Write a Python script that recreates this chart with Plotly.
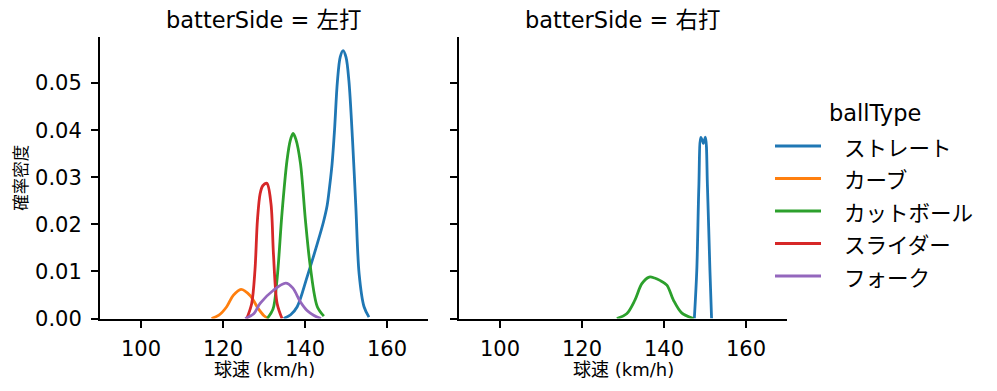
import plotly.graph_objects as go

# ---- data (KDE curves, km/h vs density) ----
ball_types = ["ストレート", "カーブ", "カットボール", "スライダー", "フォーク"]
colors = ["#1f77b4", "#ff7f0e", "#2ca02c", "#d62728", "#9467bd"]
x_ticks = [100, 120, 140, 160]
y_ticks = [0.00, 0.01, 0.02, 0.03, 0.04, 0.05]
y_tick_labels = ["0.00", "0.01", "0.02", "0.03", "0.04", "0.05"]

# left-handed batters (左打)
left_straight_x = [134.8, 136.5, 138.1, 140.5, 143.0, 144.5, 145.4, 146.0, 146.6, 147.2, 147.9, 148.6, 149.3, 150.0, 150.7, 151.6, 152.4, 153.2, 154.4, 155.6]
left_straight_y = [0.0, 0.0008, 0.0025, 0.0088, 0.0159, 0.0205, 0.0240, 0.0280, 0.0328, 0.0400, 0.0503, 0.0556, 0.0569, 0.0555, 0.0506, 0.0378, 0.0237, 0.0095, 0.0025, 0.0003]
left_curve_x = [117.2, 119.0, 120.9, 122.5, 124.4, 126.6, 128.6, 130.0, 131.1]
left_curve_y = [0.0, 0.0007, 0.0025, 0.0049, 0.0062, 0.0049, 0.0021, 0.0006, 0.0]
left_cutter_x = [130.8, 132.2, 133.2, 134.4, 135.6, 136.4, 137.1, 137.8, 138.9, 140.1, 141.3, 143.0, 144.6]
left_cutter_y = [0.0, 0.002, 0.0085, 0.0225, 0.0335, 0.0378, 0.0393, 0.0380, 0.0329, 0.0209, 0.0110, 0.0025, 0.0005]
left_slider_x = [125.8, 127.0, 127.8, 128.4, 129.05, 129.7, 130.7, 131.7, 132.3, 133.2, 134.4]
left_slider_y = [0.0, 0.0032, 0.0103, 0.0209, 0.0265, 0.0282, 0.0287, 0.0244, 0.0138, 0.0032, 0.0]
left_fork_x = [125.4, 127.5, 129.05, 132.3, 135.3, 137.0, 138.9, 140.5, 142.1, 143.9]
left_fork_y = [0.0, 0.0010, 0.0032, 0.0060, 0.0075, 0.0065, 0.0035, 0.0017, 0.0007, 0.0]

# right-handed batters (右打)
right_straight_x = [147.4, 148.0, 148.5, 149.0, 149.6, 150.1, 150.6, 151.2, 151.6]
right_straight_y = [0.0, 0.0103, 0.0280, 0.0385, 0.0372, 0.0385, 0.0280, 0.0103, 0.0]
right_cutter_x = [128.5, 130.9, 132.9, 134.6, 136.4, 137.7, 139.0, 140.7, 142.3, 144.3, 147.2]
right_cutter_y = [0.0, 0.0010, 0.0039, 0.0074, 0.0088, 0.0086, 0.0081, 0.0071, 0.0039, 0.0012, 0.0]

left_series = [
    (left_straight_x, left_straight_y),
    (left_curve_x, left_curve_y),
    (left_cutter_x, left_cutter_y),
    (left_slider_x, left_slider_y),
    (left_fork_x, left_fork_y),
]
right_series = [
    (right_straight_x, right_straight_y),
    None,
    (right_cutter_x, right_cutter_y),
    None,
    None,
]

LATIN = "DejaVu Sans, Noto Sans CJK JP"
CJK = "Noto Sans CJK JP"
# page body has an 8px margin; the figure is sized so the page fits the 997x391 window
OFF = 8
W, H = 989, 375
LW = 2.8

fig = go.Figure()
for i, name in enumerate(ball_types):
    lx, ly = left_series[i]
    fig.add_trace(go.Scatter(
        x=lx, y=ly, mode="lines", name=name, legendgroup=name,
        line=dict(color=colors[i], width=LW, shape="spline", smoothing=0.9),
        xaxis="x", yaxis="y", showlegend=False,
    ))
    if right_series[i] is not None:
        rx, ry = right_series[i]
        fig.add_trace(go.Scatter(
            x=rx, y=ry, mode="lines", name=name, legendgroup=name,
            line=dict(color=colors[i], width=LW, shape="spline", smoothing=0.9),
            xaxis="x2", yaxis="y2", showlegend=False,
        ))

def px_x(p):
    return (p - OFF) / W

def px_y(p):
    return 1 - (p - OFF) / H

xdom1 = [px_x(100), px_x(428)]
xdom2 = [px_x(459), px_x(787)]
ydom = [px_y(318.5), px_y(37)]

axis_common = dict(
    showgrid=False, zeroline=False, showline=True, linecolor="black", linewidth=2,
    ticks="outside", ticklen=7, tickwidth=1.8, tickcolor="black", automargin=False,
    tickfont=dict(family=LATIN, size=21, color="black"),
)

fig.update_layout(
    width=W, height=H,
    margin=dict(l=0, r=0, t=0, b=0),
    paper_bgcolor="white", plot_bgcolor="white",
    font=dict(family=LATIN, color="black"),
    showlegend=False,
    xaxis=dict(domain=xdom1, range=[90, 170], tickvals=x_ticks, anchor="y", ticklabelstandoff=3,
               **axis_common),
    yaxis=dict(domain=ydom, range=[0, 0.0598], tickvals=y_ticks, ticktext=y_tick_labels, anchor="x",
               ticklabelstandoff=5, **axis_common),
    xaxis2=dict(domain=xdom2, range=[90, 170], tickvals=x_ticks, anchor="y2", ticklabelstandoff=3,
                **axis_common),
    yaxis2=dict(domain=ydom, range=[0, 0.0598], tickvals=y_ticks, showticklabels=False, anchor="x2",
                **axis_common),
)

annotations = [
    dict(text="batterSide = 左打", x=(xdom1[0] + xdom1[1]) / 2, y=px_y(20)),
    dict(text="batterSide = 右打", x=(xdom2[0] + xdom2[1]) / 2, y=px_y(20)),
]
for a in annotations:
    a.update(xref="paper", yref="paper", showarrow=False, xanchor="center", yanchor="middle",
             font=dict(family=LATIN, size=22.5, color="black"))
# axis titles
for xc in [(xdom1[0] + xdom1[1]) / 2, (xdom2[0] + xdom2[1]) / 2]:
    annotations.append(dict(text="球速 (km/h)", x=xc, y=px_y(369.5), xref="paper", yref="paper",
                            showarrow=False, xanchor="center", yanchor="middle",
                            font=dict(family=LATIN, size=18, color="black")))
annotations.append(dict(text="確率密度", x=px_x(20), y=(ydom[0] + ydom[1]) / 2, xref="paper", yref="paper",
                        showarrow=False, xanchor="center", yanchor="middle", textangle=-90,
                        font=dict(family=CJK, size=16.5, color="black")))

# manual legend (seaborn style)
annotations.append(dict(text="ballType", x=px_x(875), y=px_y(113), xref="paper", yref="paper",
                        showarrow=False, xanchor="center", yanchor="middle",
                        font=dict(family=LATIN, size=22.5, color="black")))
legend_rows = [146, 178.5, 211, 243.5, 276]
shapes = []
for i, name in enumerate(ball_types):
    yy = px_y(legend_rows[i])
    shapes.append(dict(type="line", xref="paper", yref="paper", x0=px_x(775), x1=px_x(821), y0=yy, y1=yy,
                       line=dict(color=colors[i], width=LW)))
    annotations.append(dict(text=name, x=px_x(842), y=yy, xref="paper", yref="paper",
                            showarrow=False, xanchor="left", yanchor="middle",
                            font=dict(family=CJK, size=21.5, color="black")))

fig.update_layout(annotations=annotations, shapes=shapes)

fig.write_html("out.html")
